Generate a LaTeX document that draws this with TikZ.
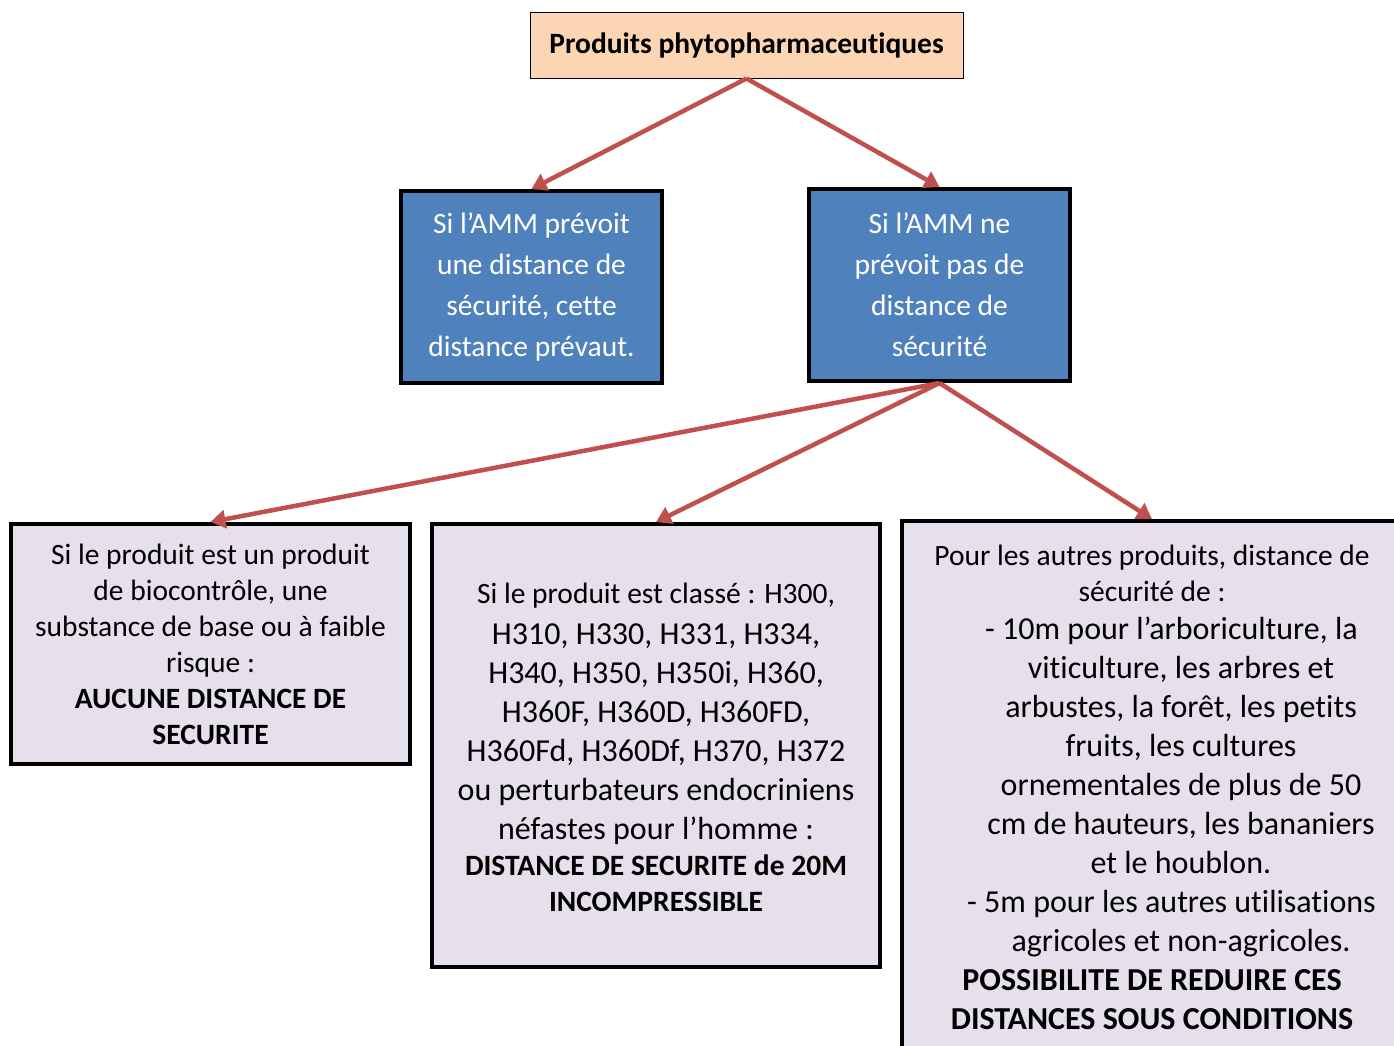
\documentclass[tikz,border=0pt]{standalone}
\usepackage{fontspec}
\setmainfont{Carlito}[Ligatures=CommonOff]
\usetikzlibrary{arrows.meta}
\definecolor{peach}{HTML}{FCD5B4}
\definecolor{amblue}{HTML}{4F81BD}
\definecolor{lavande}{HTML}{E5E0EC}
\definecolor{fleche}{HTML}{C0504D}
\newcommand{\grand}{\fontsize{32}{39}\selectfont}
\newcommand{\petit}{\fontsize{29.5}{36}\selectfont}
\tikzset{
    titre/.style = {draw, line width=1pt, fill=peach, minimum width=433pt, minimum height=66pt,
        font=\fontsize{29.5}{39}\selectfont\bfseries},
    cas/.style = {draw, line width=4pt, fill=amblue, text=white, minimum width=261pt,
        minimum height=192pt, align=center, font=\fontsize{29.5}{41}\selectfont},
    regle/.style = {draw, line width=4pt, fill=lavande, align=center, inner sep=0pt, font=\grand},
    fl/.style = {draw=fleche, line width=4.5pt, -{Triangle[length=15pt,width=18pt]}},
}
\begin{document}
\begin{tikzpicture}[x=1pt,y=-1pt]
        \useasboundingbox (0,0) rectangle (1394,1045);
        \node[titre] (prod) at (746.5,45) {Produits phytopharmaceutiques};
        \node[cas] (amm) at (531.5,287) {Si l’AMM prévoit\\une distance de\\sécurité, cette\\distance prévaut.};
        \node[cas] (sans) at (939.5,285) {Si l’AMM ne\\prévoit pas de\\distance de\\sécurité};
        \node[regle, minimum width=399pt, minimum height=240pt, font=\petit] (bio) at (210.5,644)
            {Si le produit est un produit\\de biocontrôle, une\\substance de base ou à faible\\risque :\\
             \textbf{AUCUNE DISTANCE DE}\\\textbf{SECURITE}};
        \node[regle, minimum width=448pt, minimum height=443pt] (cmr) at (656,745.5)
            {\petit Si le produit est classé : H300,\\[2pt]
             H310, H330, H331, H334,\\H340, H350, H350i, H360,\\
             H360F, H360D, H360FD,\\H360Fd, H360Df, H370, H372\\ou perturbateurs endocriniens\\
             néfastes pour l’homme :\\[-3pt]\petit\bfseries DISTANCE DE SECURITE de 20M\\[-3pt]
             \petit\bfseries INCOMPRESSIBLE\vspace*{-3pt}};
        \node[regle, minimum width=500pt, minimum height=532pt] (autres) at (1152,787)
            {\petit Pour les autres produits, distance de\\[-3pt]\petit sécurité de :\\[-1pt]
             \hspace*{39pt}- 10m pour l’arboriculture, la\\
             \hspace*{58pt}viticulture, les arbres et\\
             \hspace*{58pt}arbustes, la forêt, les petits\\
             \hspace*{58pt}fruits, les cultures\\
             \hspace*{58pt}ornementales de plus de 50\\
             \hspace*{58pt}cm de hauteurs, les bananiers\\
             \hspace*{58pt}et le houblon.\\
             \hspace*{39pt}- 5m pour les autres utilisations\\
             \hspace*{58pt}agricoles et non-agricoles.\\
             \bfseries POSSIBILITE DE REDUIRE CES\\\bfseries DISTANCES SOUS CONDITIONS};
        % fleches
        \draw[fl] (prod.south) -- (amm.north);
        \draw[fl] (prod.south) -- (sans.north);
        \draw[fl] (sans.south) -- (bio.north);
        \draw[fl] (sans.south) -- (cmr.north);
        \draw[fl] (sans.south) -- (autres.north);
    \end{tikzpicture}
\end{document}
